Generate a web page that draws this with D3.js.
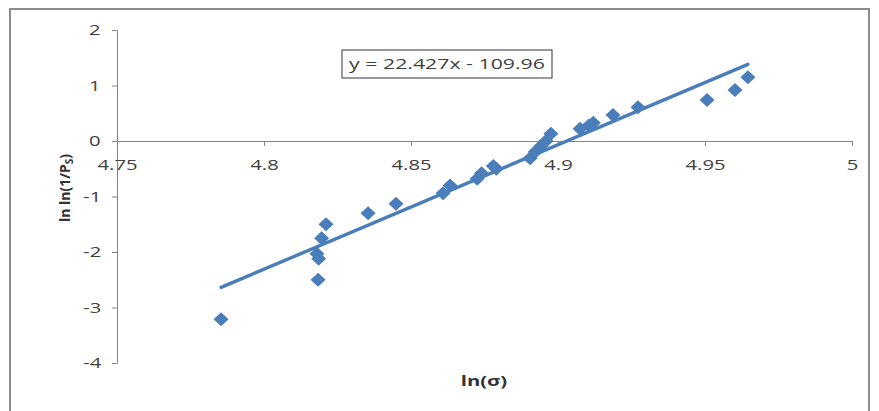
<!DOCTYPE html>
<html><head><meta charset="utf-8">
<script src="https://cdn.jsdelivr.net/npm/d3@7"></script>
<style>
body{margin:0;background:#fff;}
svg text{font-family:"Open Sans","DejaVu Sans",sans-serif;}
.sx{transform-box:fill-box;transform-origin:center;transform:scaleX(1.35);}
.sx2{transform-box:fill-box;transform-origin:center;transform:scaleX(1.42);}
</style>
</head><body>
<svg id="c" width="879" height="411"></svg>
<script>
const lnSigma = [4.7854,4.8184,4.8180,4.8186,4.8196,4.8211,4.8354,4.8449,4.8609,4.8633,4.8725,4.8740,4.8780,4.8790,4.8905,4.8922,4.8942,4.8959,4.8976,4.9075,4.9105,4.9120,4.9187,4.9272,4.9507,4.9602,4.9646];
const lnlnP = [-3.21,-2.50,-2.03,-2.12,-1.75,-1.50,-1.30,-1.13,-0.94,-0.80,-0.68,-0.58,-0.45,-0.50,-0.31,-0.20,-0.09,0.00,0.13,0.22,0.28,0.33,0.47,0.61,0.74,0.92,1.15];
const xTicks = [4.75,4.8,4.85,4.9,4.95,5];
const yTicks = [2,1,0,-1,-2,-3,-4];
const slope = 22.427, intercept = -109.96;
const eqLabel = "y = 22.427x - 109.96";

const svg = d3.select("#c");
const blue = "#4a7ebb", axisCol = "#868686", txt = "#404040";

svg.append("rect").attr("x",10).attr("y",9).attr("width",859).attr("height",405)
  .attr("fill","#fff").attr("stroke","#8c8c8c").attr("stroke-width",2);

const x = d3.scaleLinear().domain([4.75,5]).range([117,852]);
const y = d3.scaleLinear().domain([-4,2]).range([363,30]);

const ya = svg.append("g").attr("transform","translate(117,0)")
  .call(d3.axisLeft(y).tickValues(yTicks).tickSize(5).tickPadding(13).tickFormat(d=>String(d)));
ya.select(".domain").attr("stroke",axisCol);
ya.selectAll(".tick line").attr("stroke",axisCol);
ya.selectAll("text").attr("font-size",15).attr("fill",txt).attr("class","sx");

const xa = svg.append("g").attr("transform",`translate(0,${y(0)})`)
  .call(d3.axisBottom(x).tickValues(xTicks).tickSize(5).tickPadding(13).tickFormat(d=>String(d)));
xa.select(".domain").attr("stroke",axisCol);
xa.selectAll(".tick line").attr("stroke",axisCol);
xa.selectAll("text").attr("font-size",15).attr("fill",txt).attr("class","sx");

const x0 = d3.min(lnSigma), x1 = d3.max(lnSigma);
svg.append("line")
  .attr("x1",x(x0)).attr("y1",y(slope*x0+intercept))
  .attr("x2",x(x1)).attr("y2",y(slope*x1+intercept))
  .attr("stroke",blue).attr("stroke-width",3.4).attr("stroke-linecap","round");

const pts = lnSigma.map((v,i)=>[v,lnlnP[i]]);
svg.append("g").selectAll("path").data(pts).join("path")
  .attr("transform",d=>`translate(${x(d[0])},${y(d[1])})`)
  .attr("d","M0,-7L7.5,0L0,7L-7.5,0Z")
  .attr("fill",blue);

const eg = svg.append("g");
eg.append("rect").attr("x",342).attr("y",50).attr("width",210).attr("height",28)
  .attr("fill","#fff").attr("stroke","#555").attr("stroke-width",1.2);
eg.append("text").attr("x",447).attr("y",69.5).attr("text-anchor","middle")
  .attr("font-size",15).attr("fill",txt).attr("class","sx2").text(eqLabel);

svg.append("text").attr("x",484).attr("y",386).attr("text-anchor","middle")
  .attr("font-size",15).attr("font-weight","bold").attr("fill","#333").attr("class","sx").text("ln(σ)");

const yt = svg.append("text").attr("transform","translate(70,188) rotate(-90)")
  .attr("text-anchor","middle").attr("font-size",14).attr("font-weight","bold").attr("fill","#333");
yt.append("tspan").text("ln ln(1/P");
yt.append("tspan").attr("font-size",10).attr("dy",3).text("S");
yt.append("tspan").attr("dy",-3).text(")");
</script>
</body></html>
